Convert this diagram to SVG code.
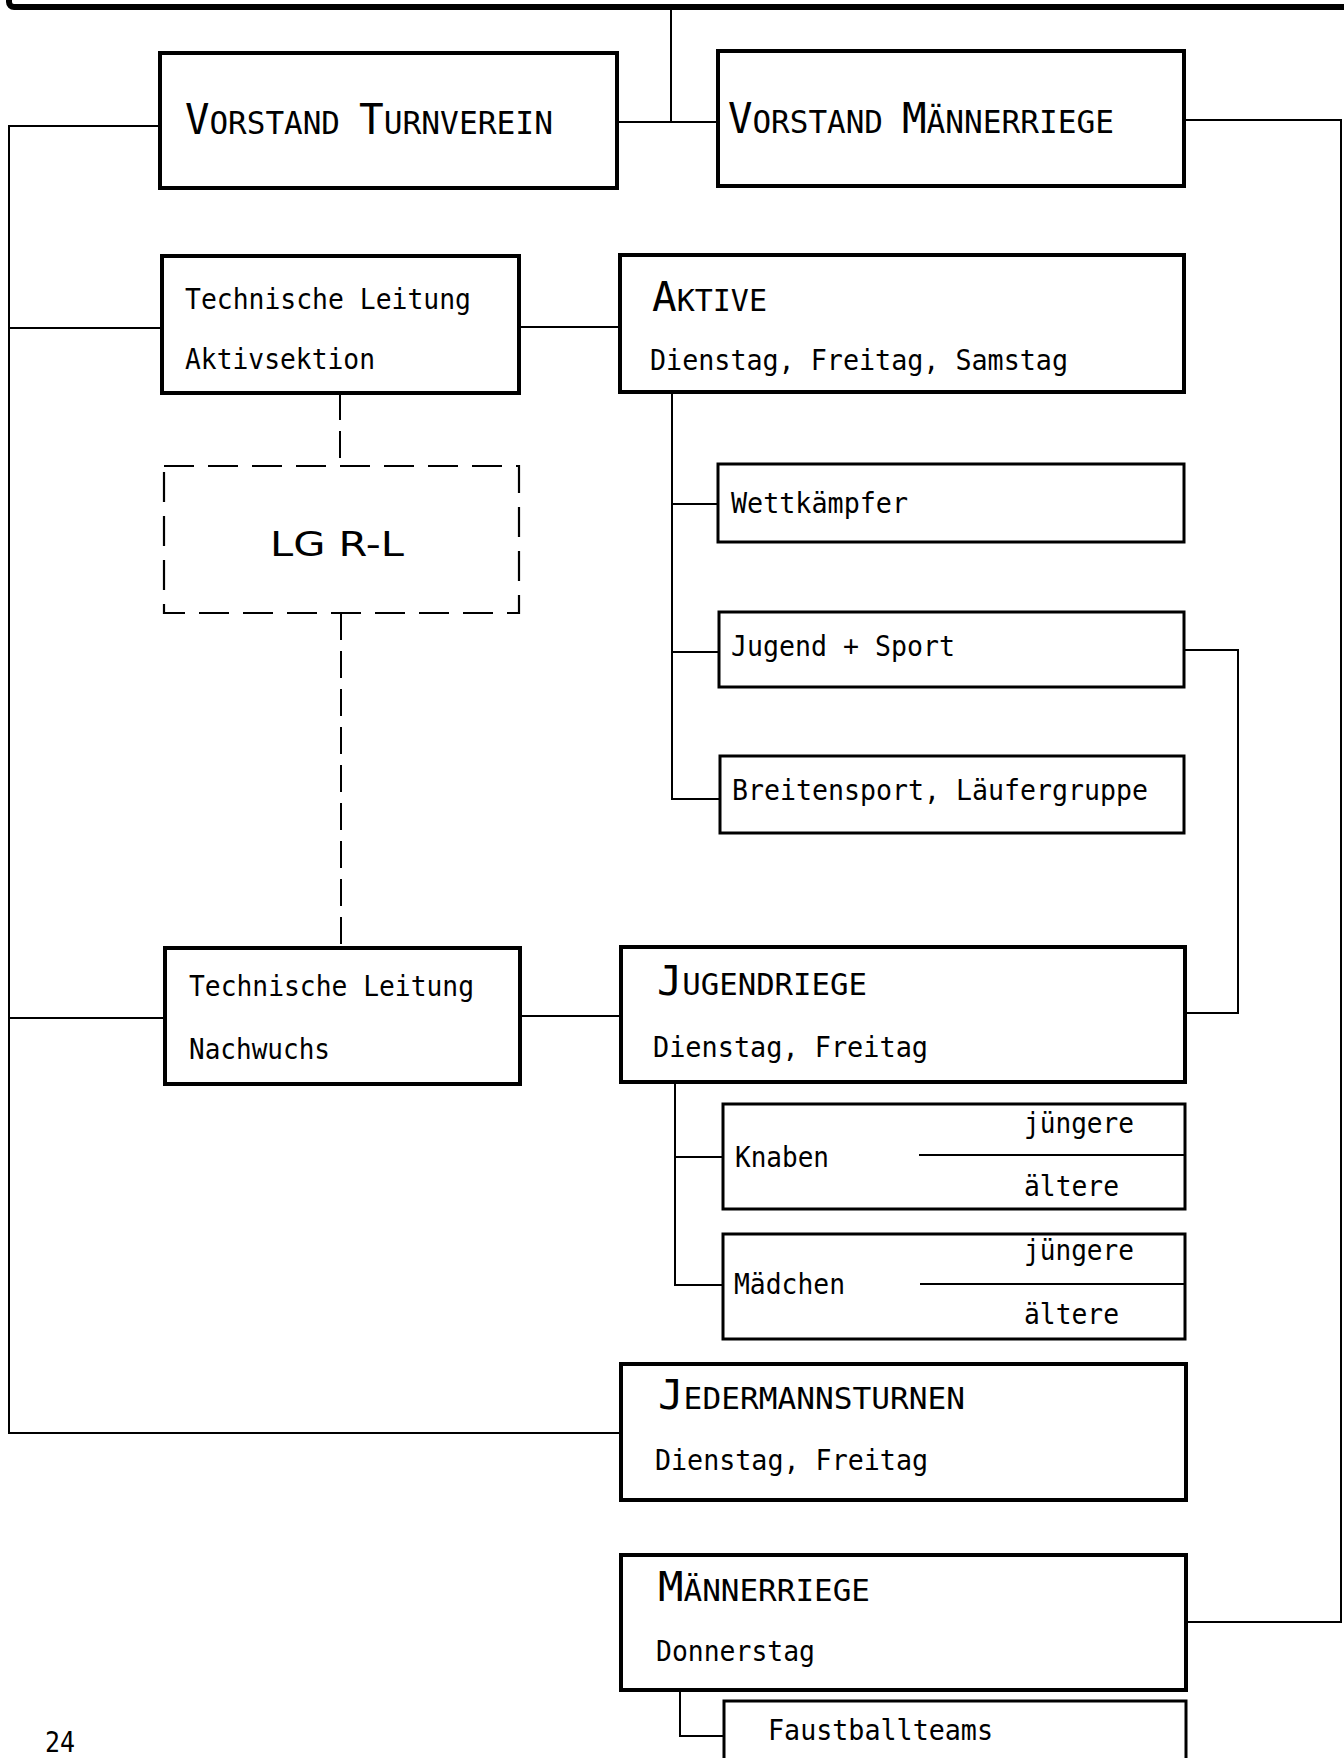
<svg xmlns="http://www.w3.org/2000/svg" width="1344" height="1758" viewBox="0 0 1344 1758">
<style>
  .bg { fill: #ffffff; }
  .box { fill: none; stroke: #000; stroke-width: 4; }
  .sub { fill: none; stroke: #000; stroke-width: 3; }
  .dash { fill: none; stroke: #000; stroke-width: 2.2; stroke-dasharray: 30 14; }
  .ln { fill: none; stroke: #000; stroke-width: 2; }
  .dl { fill: none; stroke: #000; stroke-width: 2; stroke-dasharray: 27 11; }
  text { font-family: "DejaVu Sans Mono", "Liberation Mono", monospace; fill: #000; }
  .t { font-size: 29px; }
  .sc { font-size: 30px; }
  .sc .big { font-size: 41px; }
  .scv { font-size: 32px; }
  .scv .big { font-size: 42px; }
  .lg { font-family: "DejaVu Sans", "Liberation Sans", sans-serif; font-size: 34px; }
</style>
<rect class="bg" x="0" y="0" width="1344" height="1758"/>

<g id="connectors">
  <path class="ln" d="M671,7 V122"/>
  <path class="ln" d="M617,122 H718"/>
  <path class="ln" d="M160,126 H9 V1433 H621"/>
  <path class="ln" d="M162,328 H9"/>
  <path class="ln" d="M165,1018 H9"/>
  <path class="ln" d="M519,327 H620"/>
  <path class="ln" d="M520,1016 H621"/>
  <path class="ln" d="M1184,120 H1341 V1622 H1186"/>
  <path class="ln" d="M672,392 V799 H720"/>
  <path class="ln" d="M672,504 H718"/>
  <path class="ln" d="M672,652 H719"/>
  <path class="ln" d="M1184,650 H1238 V1013 H1185"/>
  <path class="ln" d="M675,1082 V1285 H723"/>
  <path class="ln" d="M675,1157 H723"/>
  <path class="ln" d="M680,1690 V1736 H724"/>
  <path class="dl" d="M340,393 V466"/>
  <path class="dl" d="M341,613 V948"/>
</g>

<g id="topbar">
  <rect x="9" y="-30" width="1400" height="37" rx="5" fill="none" stroke="#000" stroke-width="6"/>
</g>

<g id="vorstand-turnverein">
  <rect class="box" x="160" y="53" width="457" height="135"/>
  <text class="scv" x="185" y="134" textLength="155" lengthAdjust="spacingAndGlyphs"><tspan class="big">V</tspan>ORSTAND</text>
  <text class="scv" x="359" y="134" textLength="194" lengthAdjust="spacingAndGlyphs"><tspan class="big">T</tspan>URNVEREIN</text>
</g>

<g id="vorstand-maennerriege">
  <rect class="box" x="718" y="51" width="466" height="135"/>
  <text class="scv" x="728" y="133" textLength="155" lengthAdjust="spacingAndGlyphs"><tspan class="big">V</tspan>ORSTAND</text>
  <text class="scv" x="902" y="133" textLength="212" lengthAdjust="spacingAndGlyphs"><tspan class="big">M</tspan>ÄNNERRIEGE</text>
</g>

<g id="tl-aktivsektion">
  <rect class="box" x="162" y="256" width="357" height="137"/>
  <text class="t" x="185" y="309" textLength="286" lengthAdjust="spacingAndGlyphs">Technische Leitung</text>
  <text class="t" x="185" y="369" textLength="190" lengthAdjust="spacingAndGlyphs">Aktivsektion</text>
</g>

<g id="aktive">
  <rect class="box" x="620" y="255" width="564" height="137"/>
  <text class="sc" x="652" y="311" textLength="115" lengthAdjust="spacingAndGlyphs"><tspan class="big">A</tspan>KTIVE</text>
  <text class="t" x="650" y="370" textLength="418" lengthAdjust="spacingAndGlyphs">Dienstag, Freitag, Samstag</text>
</g>

<g id="lg-rl">
  <rect class="dash" x="164" y="466" width="355" height="147"/>
  <text class="lg" x="270" y="556" textLength="134" lengthAdjust="spacingAndGlyphs">LG R-L</text>
</g>

<g id="wettkaempfer">
  <rect class="sub" x="718" y="464" width="466" height="78"/>
  <text class="t" x="731" y="513" textLength="177" lengthAdjust="spacingAndGlyphs">Wettkämpfer</text>
</g>

<g id="jugend-sport">
  <rect class="sub" x="719" y="612" width="465" height="75"/>
  <text class="t" x="731" y="656" textLength="224" lengthAdjust="spacingAndGlyphs">Jugend + Sport</text>
</g>

<g id="breitensport">
  <rect class="sub" x="720" y="756" width="464" height="77"/>
  <text class="t" x="732" y="800" textLength="416" lengthAdjust="spacingAndGlyphs">Breitensport, Läufergruppe</text>
</g>

<g id="tl-nachwuchs">
  <rect class="box" x="165" y="948" width="355" height="136"/>
  <text class="t" x="189" y="996" textLength="285" lengthAdjust="spacingAndGlyphs">Technische Leitung</text>
  <text class="t" x="189" y="1059" textLength="141" lengthAdjust="spacingAndGlyphs">Nachwuchs</text>
</g>

<g id="jugendriege">
  <rect class="box" x="621" y="947" width="564" height="135"/>
  <text class="sc" x="657" y="995" textLength="210" lengthAdjust="spacingAndGlyphs"><tspan class="big">J</tspan>UGENDRIEGE</text>
  <text class="t" x="653" y="1057" textLength="275" lengthAdjust="spacingAndGlyphs">Dienstag, Freitag</text>
</g>

<g id="knaben">
  <rect class="sub" x="723" y="1104" width="462" height="105"/>
  <path class="ln" d="M919,1155 H1185"/>
  <text class="t" x="735" y="1167" textLength="94" lengthAdjust="spacingAndGlyphs">Knaben</text>
  <text class="t" x="1024" y="1133" textLength="110" lengthAdjust="spacingAndGlyphs">jüngere</text>
  <text class="t" x="1024" y="1196" textLength="95" lengthAdjust="spacingAndGlyphs">ältere</text>
</g>

<g id="maedchen">
  <rect class="sub" x="723" y="1234" width="462" height="105"/>
  <path class="ln" d="M920,1284 H1185"/>
  <text class="t" x="734" y="1294" textLength="111" lengthAdjust="spacingAndGlyphs">Mädchen</text>
  <text class="t" x="1024" y="1260" textLength="110" lengthAdjust="spacingAndGlyphs">jüngere</text>
  <text class="t" x="1024" y="1324" textLength="95" lengthAdjust="spacingAndGlyphs">ältere</text>
</g>

<g id="jedermannsturnen">
  <rect class="box" x="621" y="1364" width="565" height="136"/>
  <text class="sc" x="658" y="1409" textLength="307" lengthAdjust="spacingAndGlyphs"><tspan class="big">J</tspan>EDERMANNSTURNEN</text>
  <text class="t" x="655" y="1470" textLength="273" lengthAdjust="spacingAndGlyphs">Dienstag, Freitag</text>
</g>

<g id="maennerriege">
  <rect class="box" x="621" y="1555" width="565" height="135"/>
  <text class="sc" x="658" y="1601" textLength="212" lengthAdjust="spacingAndGlyphs"><tspan class="big">M</tspan>ÄNNERRIEGE</text>
  <text class="t" x="656" y="1661" textLength="159" lengthAdjust="spacingAndGlyphs">Donnerstag</text>
</g>

<g id="faustballteams">
  <rect class="sub" x="724" y="1701" width="462" height="100"/>
  <text class="t" x="768" y="1740" textLength="225" lengthAdjust="spacingAndGlyphs">Faustballteams</text>
</g>

<g id="page-number">
  <text class="t" x="45" y="1752" textLength="30" lengthAdjust="spacingAndGlyphs">24</text>
</g>
</svg>
